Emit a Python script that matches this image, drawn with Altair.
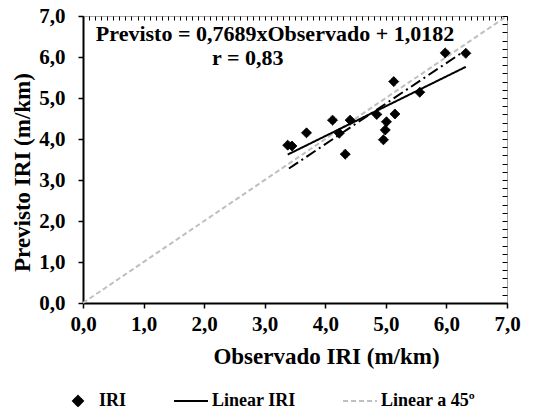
import altair as alt
import pandas as pd

# observed / predicted IRI points (m/km)
obs = [3.38, 3.45, 3.69, 4.12, 4.41, 4.33, 4.23, 4.85, 5.13, 5.15, 5.01, 4.99, 4.96, 5.56, 5.98, 6.32]
pred = [3.85, 3.83, 4.15, 4.46, 4.46, 3.63, 4.14, 4.60, 5.40, 4.61, 4.42, 4.22, 3.98, 5.14, 6.10, 6.09]

series_names = ["IRI", "Linear IRI", "Linear a 45º"]
series_colors = ["#000000", "#000000", "#bfbfbf"]

# regression trendline endpoints and 45-degree line
trend_x = [3.38, 6.32]
trend_y = [3.62, 5.76]
diag_x = [0.0, 7.0]
diag_y = [0.0, 7.0]
# secondary dash-dot trend (not in legend)
dd_x = [3.40, 6.30]
dd_y = [3.28, 6.15]

major_ticks = [0, 1, 2, 3, 4, 5, 6, 7]
minor_x = [round(i * 0.1, 1) for i in range(71)]
minor_y = [round(i * 0.2, 1) for i in range(36)]

ann_text = ["Previsto = 0,7689xObservado + 1,0182", "r = 0,83"]
ann_x = [3.17, 2.72]
ann_y = [6.56, 5.97]

FONT = "Liberation Serif"
label_expr = "replace(format(datum.value, '.1f'), '.', ',')"

pts = pd.DataFrame({"x": obs, "y": pred, "series": "IRI"})
lines = pd.DataFrame({
    "x": diag_x + trend_x,
    "y": diag_y + trend_y,
    "series": ["Linear a 45º"] * 2 + ["Linear IRI"] * 2,
})
dd = pd.DataFrame({"x": dd_x, "y": dd_y})
ann = pd.DataFrame({"x": ann_x, "y": ann_y, "t": ann_text})

xs = alt.Scale(domain=[0, 7], nice=False, zero=False)
ys = alt.Scale(domain=[0, 7], nice=False, zero=False)

diamond = "M0,-1L1,0L0,1L-1,0Z"
stroke_path = "M-3.4,0L3.4,0"

stroke_scale = alt.Scale(domain=series_names, range=series_colors)
fill_scale = alt.Scale(domain=series_names, range=series_colors)
shape_scale = alt.Scale(domain=series_names, range=[diamond, stroke_path, stroke_path])
dash_scale = alt.Scale(domain=series_names, range=[[1, 0], [1, 0], [5, 3]])

legend = alt.Legend(
    title=None, orient="none", legendX=-14, legendY=376, direction="horizontal",
    columns=3, labelFont=FONT, labelFontSize=18, labelFontWeight="bold",
    labelColor="black", symbolSize=100, symbolStrokeWidth=2, labelOffset=12,
    columnPadding=43, padding=0, symbolOpacity=1, labelLimit=300,
)

main_x_axis = alt.Axis(
    values=major_ticks, labelExpr=label_expr, title="Observado IRI (m/km)",
    grid=False, tickSize=5, tickWidth=1.5, tickColor="black",
    domainColor="black", domainWidth=2, labelFont=FONT, labelFontSize=21,
    labelFontWeight="bold", labelColor="black", labelPadding=5, labelFlush=False,
    titleFont=FONT, titleFontSize=23, titleFontWeight="bold", titleColor="black",
    titleX=243, titleY=53, titleBaseline="middle", titleAlign="center",
)
main_y_axis = alt.Axis(
    values=major_ticks, labelExpr=label_expr, title="Previsto IRI (m/km)",
    grid=False, tickSize=5, tickWidth=1.5, tickColor="black",
    domainColor="black", domainWidth=2, labelFont=FONT, labelFontSize=21,
    labelFontWeight="bold", labelColor="black", labelPadding=13, labelFlush=False,
    titleFont=FONT, titleFontSize=23, titleFontWeight="bold", titleColor="black",
    titleX=-61, titleY=156, titleBaseline="middle", titleAlign="center",
)
minor_x_axis = alt.Axis(
    values=minor_x, labels=False, domain=False, grid=False, title=None,
    tickSize=4, tickWidth=1, tickColor="black", offset=-4,
)
minor_y_axis = alt.Axis(
    values=minor_y, labels=False, domain=False, grid=False, title=None,
    tickSize=5, tickWidth=1, tickColor="black", offset=-5,
)

line_layer = alt.Chart(lines).mark_line(strokeWidth=2).encode(
    x=alt.X("x:Q", scale=xs, axis=main_x_axis),
    y=alt.Y("y:Q", scale=ys, axis=main_y_axis),
    stroke=alt.Stroke("series:N", scale=stroke_scale, legend=legend),
    strokeDash=alt.StrokeDash("series:N", scale=dash_scale, legend=legend),
    detail="series:N",
)

dd_layer = alt.Chart(dd).mark_line(strokeWidth=2, color="black", strokeDash=[11, 4, 2, 4]).encode(
    x=alt.X("x:Q", scale=xs, axis=minor_x_axis),
    y=alt.Y("y:Q", scale=ys, axis=minor_y_axis),
)

pt_layer = alt.Chart(pts).mark_point(filled=True, size=100, strokeWidth=1, opacity=1).encode(
    x=alt.X("x:Q", scale=xs, axis=None),
    y=alt.Y("y:Q", scale=ys, axis=None),
    fill=alt.Fill("series:N", scale=fill_scale, legend=legend),
    stroke=alt.Stroke("series:N", scale=stroke_scale, legend=legend),
    shape=alt.Shape("series:N", scale=shape_scale, legend=legend),
    strokeDash=alt.StrokeDash("series:N", scale=dash_scale, legend=legend),
)

ann_layer = alt.Chart(ann).mark_text(
    font=FONT, fontSize=22, fontWeight="bold", color="black", align="center", baseline="middle"
).encode(
    x=alt.X("x:Q", scale=xs, axis=None),
    y=alt.Y("y:Q", scale=ys, axis=None),
    text="t:N",
)

chart = alt.layer(line_layer, dd_layer, pt_layer, ann_layer).resolve_axis(
    x="independent", y="independent"
).properties(
    width=424, height=287,
    autosize=alt.AutoSizeParams(type="none"),
    padding={"left": 75, "top": 8, "right": 19, "bottom": 104},
    background="white",
).configure_view(stroke="#a6a6a6", strokeWidth=1)

chart.save("out.html", embed_options={"renderer": "svg", "actions": False})
